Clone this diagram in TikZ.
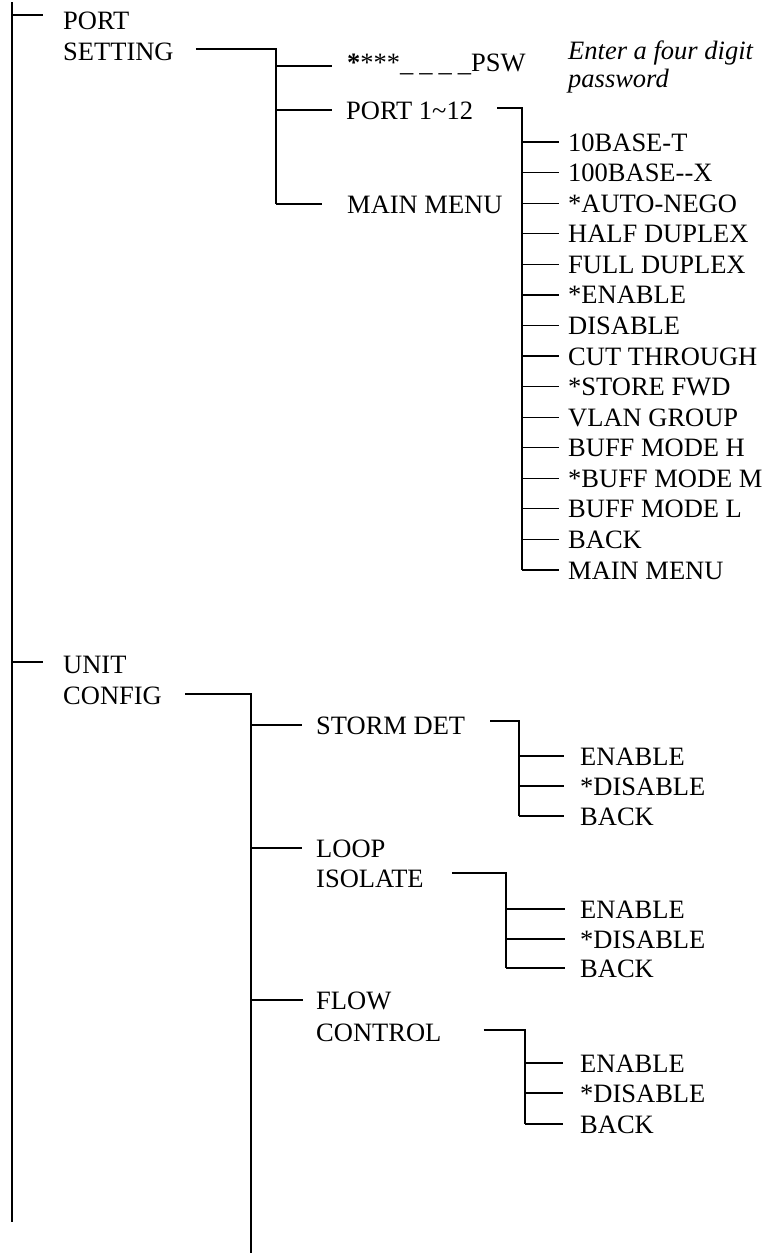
\documentclass[tikz,border=0pt]{standalone}
\usepackage{fontspec}
\setmainfont{Liberation Serif}
\usetikzlibrary{positioning}

\begin{document}
\begin{tikzpicture}[x=1pt,y=-1pt]
\tikzstyle{menu}=[anchor=west, inner sep=0pt, text height=18pt, text depth=0pt, font=\fontsize{26.5}{30.5}\selectfont]
\tikzstyle{wire}=[line width=1.2pt]
\useasboundingbox (0,0) rectangle (768,1253);

% top level
\coordinate (top) at (12,2);
\coordinate (bottom) at (12,1222);
\node[menu] (port) at (63,20) {PORT};
\node[menu] (setting) at (63,51) {SETTING};
\node[menu] (unit) at (63,664) {UNIT};
\node[menu] (config) at (63,695) {CONFIG};

% port setting
\coordinate (setbus) at (276,0);
\node[menu] (psw) at (347,62) {\textbf{*}***\_\hspace{6pt}\_\hspace{6pt}\_\hspace{6pt}\_PSW};
\node[anchor=north west, inner sep=0pt, align=left, font=\fontsize{26.5}{28}\selectfont\itshape] (hint) at (568,40.5) {Enter a four digit\\password};
\node[menu] (ports) at (346,110) {PORT 1\textasciitilde12};
\node[menu] (mmenu) at (347,204) {MAIN MENU};

% port options
\coordinate (portbus) at (522,0);
\node[menu] (opt0) at (568,142) {10BASE-T};
\node[menu] (opt1) at (568,172.6) {100BASE-{}-X};
\node[menu] (opt2) at (568,203.1) {*AUTO-NEGO};
\node[menu] (opt3) at (568,233.7) {HALF DUPLEX};
\node[menu] (opt4) at (568,264.3) {FULL DUPLEX};
\node[menu] (opt5) at (568,294.9) {*ENABLE};
\node[menu] (opt6) at (568,325.4) {DISABLE};
\node[menu] (opt7) at (568,356) {CUT THROUGH};
\node[menu] (opt8) at (568,386.6) {*STORE FWD};
\node[menu] (opt9) at (568,417.1) {VLAN GROUP};
\node[menu] (opt10) at (568,447.7) {BUFF MODE H};
\node[menu] (opt11) at (568,478.3) {*BUFF MODE M};
\node[menu] (opt12) at (568,508.8) {BUFF MODE L};
\node[menu] (opt13) at (568,539.4) {BACK};
\node[menu] (opt14) at (568,570) {MAIN MENU};

% unit config
\coordinate (cfgbus) at (251,0);
\coordinate (cfgend) at (251,1253);
\node[menu] (storm) at (316,725) {STORM DET};
\node[menu] (loop) at (316,848) {LOOP};
\node[menu] (isolate) at (316,878) {ISOLATE};
\node[menu] (flow) at (316,1000) {FLOW};
\node[menu] (control) at (316,1032) {CONTROL};

\coordinate (sdbus) at (519,0);
\node[menu] (sdon) at (580,756) {ENABLE};
\node[menu] (sdoff) at (580,786) {*DISABLE};
\node[menu] (sdback) at (580,816) {BACK};

\coordinate (libus) at (506,0);
\node[menu] (lion) at (580,909) {ENABLE};
\node[menu] (lioff) at (580,939) {*DISABLE};
\node[menu] (liback) at (580,968) {BACK};

\coordinate (fcbus) at (525,0);
\node[menu] (fcon) at (580,1063) {ENABLE};
\node[menu] (fcoff) at (580,1093) {*DISABLE};
\node[menu] (fcback) at (580,1124) {BACK};

% trunk
\draw[wire] (top) -- (bottom);
\draw[wire] ([yshift=5pt]top |- port.west) -- ([xshift=-20pt,yshift=5pt]port.west);
\draw[wire] ([yshift=2pt]top |- unit.west) -- ([xshift=-20pt,yshift=2pt]unit.west);

% port setting wires
\draw[wire] ([xshift=22pt,yshift=2pt]setting.east) -| (setbus |- mmenu.west);
\draw[wire] ([yshift=-4pt]setbus |- psw.west) -- ([xshift=-15pt,yshift=-4pt]psw.west);
\draw[wire] (setbus |- ports.west) -- ([xshift=-14pt]ports.west);
\draw[wire] (setbus |- mmenu.west) -- ([xshift=-25pt]mmenu.west);

\draw[wire] ([xshift=24pt,yshift=2pt]ports.east) -| (portbus |- opt14.west);
\draw[wire] (portbus |- opt0.west) -- ([xshift=-9pt]opt0.west);
\draw[wire] (portbus |- opt1.west) -- ([xshift=-9pt]opt1.west);
\draw[wire] (portbus |- opt2.west) -- ([xshift=-9pt]opt2.west);
\draw[wire] (portbus |- opt3.west) -- ([xshift=-9pt]opt3.west);
\draw[wire] (portbus |- opt4.west) -- ([xshift=-9pt]opt4.west);
\draw[wire] (portbus |- opt5.west) -- ([xshift=-9pt]opt5.west);
\draw[wire] (portbus |- opt6.west) -- ([xshift=-9pt]opt6.west);
\draw[wire] (portbus |- opt7.west) -- ([xshift=-9pt]opt7.west);
\draw[wire] (portbus |- opt8.west) -- ([xshift=-9pt]opt8.west);
\draw[wire] (portbus |- opt9.west) -- ([xshift=-9pt]opt9.west);
\draw[wire] (portbus |- opt10.west) -- ([xshift=-9pt]opt10.west);
\draw[wire] (portbus |- opt11.west) -- ([xshift=-9pt]opt11.west);
\draw[wire] (portbus |- opt12.west) -- ([xshift=-9pt]opt12.west);
\draw[wire] (portbus |- opt13.west) -- ([xshift=-9pt]opt13.west);
\draw[wire] (portbus |- opt14.west) -- ([xshift=-9pt]opt14.west);

% unit config wires
\draw[wire] ([xshift=23pt,yshift=1pt]config.east) -| (cfgend);
\draw[wire] (cfgbus |- storm.west) -- ([xshift=-14pt]storm.west);
\draw[wire] (cfgbus |- loop.west) -- ([xshift=-14pt]loop.west);
\draw[wire] (cfgbus |- flow.west) -- ([xshift=-13pt]flow.west);

\draw[wire] ([xshift=25pt,yshift=4pt]storm.east) -| (sdbus |- sdback.west);
\draw[wire] (sdbus |- sdon.west) -- ([xshift=-16pt]sdon.west);
\draw[wire] (sdbus |- sdoff.west) -- ([xshift=-16pt]sdoff.west);
\draw[wire] (sdbus |- sdback.west) -- ([xshift=-16pt]sdback.west);

\draw[wire] ([xshift=28pt,yshift=5pt]isolate.east) -| (libus |- liback.west);
\draw[wire] (libus |- lion.west) -- ([xshift=-15pt]lion.west);
\draw[wire] (libus |- lioff.west) -- ([xshift=-15pt]lioff.west);
\draw[wire] (libus |- liback.west) -- ([xshift=-15pt]liback.west);

\draw[wire] ([xshift=42pt,yshift=2pt]control.east) -| (fcbus |- fcback.west);
\draw[wire] (fcbus |- fcon.west) -- ([xshift=-17pt]fcon.west);
\draw[wire] (fcbus |- fcoff.west) -- ([xshift=-17pt]fcoff.west);
\draw[wire] (fcbus |- fcback.west) -- ([xshift=-17pt]fcback.west);
\end{tikzpicture}
\end{document}
